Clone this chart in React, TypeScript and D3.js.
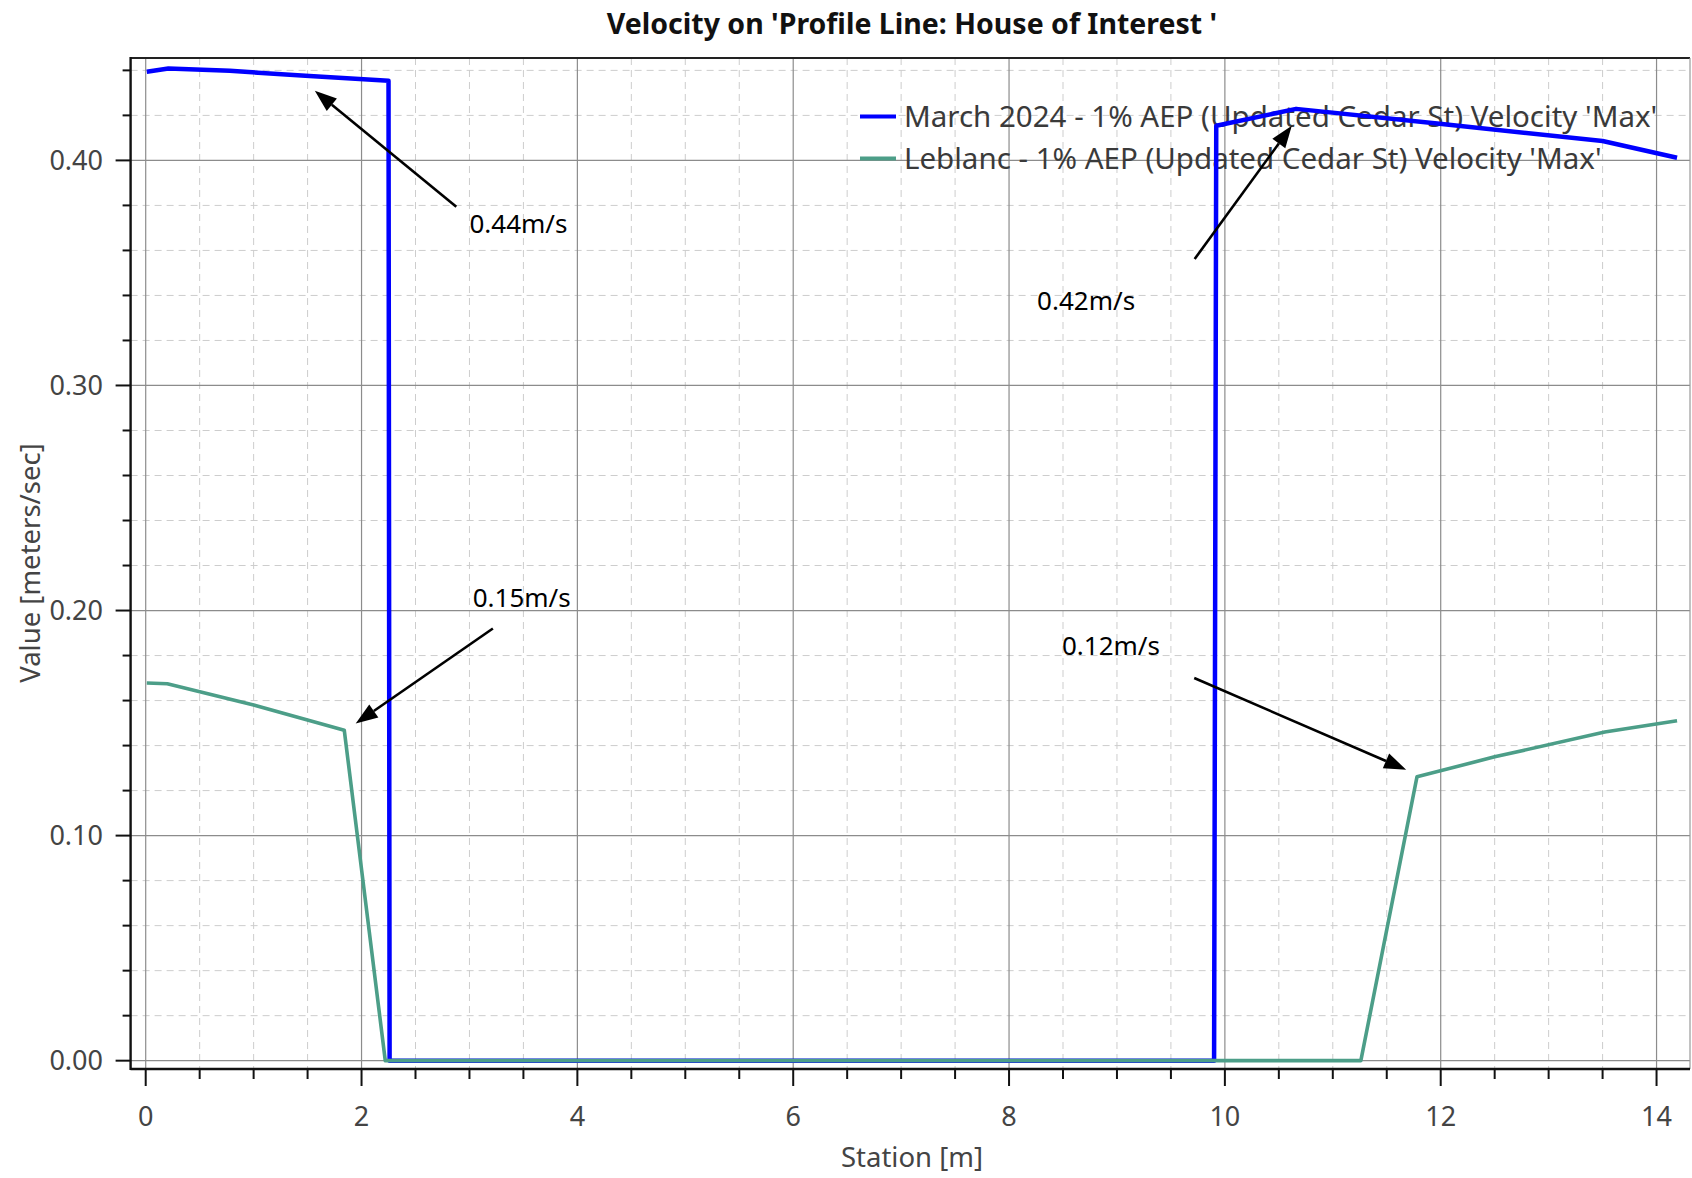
import React from "react";
import * as d3 from "d3";

// ---- Data ----
const stationMarch = [0.01, 0.21, 0.78, 1.48, 2.25, 2.26, 9.9, 9.92, 10.66, 11.99, 13.5, 14.19];
const velocityMarch = [0.4394, 0.4408, 0.4398, 0.4376, 0.4354, 0, 0, 0.4154, 0.4229, 0.4163, 0.4086, 0.4012];

const stationLeblanc = [0.01, 0.2, 1.0, 1.84, 2.22, 11.26, 11.78, 12.5, 13.52, 14.19];
const velocityLeblanc = [0.1678, 0.1675, 0.158, 0.1468, 0, 0, 0.1261, 0.135, 0.146, 0.151];

const seriesNames = [
  "March 2024 - 1% AEP (Updated Cedar St) Velocity 'Max'",
  "Leblanc - 1% AEP (Updated Cedar St) Velocity 'Max'",
];
const seriesColors = ["#0000ff", "#4c9e88"];

const xMajorTicks = [0, 2, 4, 6, 8, 10, 12, 14];
const yMajorTicks = [0, 0.1, 0.2, 0.3, 0.4];

// annotations: label, text anchor (data), arrow tail (data), arrow head (data)
const annLabels = ["0.44m/s", "0.42m/s", "0.15m/s", "0.12m/s"];
const annTextX = [3.0, 8.26, 3.03, 8.49];
const annTextY = [0.3676, 0.3336, 0.2016, 0.1801];
const annTailX = [2.878, 9.72, 3.217, 9.716];
const annTailY = [0.3794, 0.3562, 0.192, 0.17];
const annHeadX = [1.567, 10.62, 1.946, 11.68];
const annHeadY = [0.4309, 0.4154, 0.1498, 0.1293];

const W = 1692;
const H = 1178;

export default function App() {
  const x = d3.scaleLinear().domain([-0.14, 14.31]).range([130.6, 1690]);
  const y = d3.scaleLinear().domain([-0.0037, 0.4455]).range([1069, 58]);

  const xMinor = d3.range(0, 14.31, 0.5).filter((v) => Math.abs(v % 2) > 1e-6);
  const yMinor = d3
    .range(0, 0.445, 0.02)
    .filter((v) => Math.abs(Math.round(v * 10) - v * 10) > 1e-6);

  const line = d3
    .line<[number, number]>()
    .x((d) => x(d[0]))
    .y((d) => y(d[1]));

  const marchPts = stationMarch.map((s, i) => [s, velocityMarch[i]] as [number, number]);
  const leblancPts = stationLeblanc.map((s, i) => [s, velocityLeblanc[i]] as [number, number]);

  const font = "'Noto Sans', 'Open Sans', sans-serif";
  const [x0, x1] = x.range();
  const [yb, yt] = y.range();

  const arrow = (i: number) => {
    const tx = x(annTailX[i]);
    const ty = y(annTailY[i]);
    const hx = x(annHeadX[i]);
    const hy = y(annHeadY[i]);
    const ang = Math.atan2(hy - ty, hx - tx);
    const L = 22;
    const w = 8;
    const bx = hx - L * Math.cos(ang);
    const by = hy - L * Math.sin(ang);
    const px = -Math.sin(ang) * w;
    const py = Math.cos(ang) * w;
    return (
      <g key={"a" + i}>
        <line x1={tx} y1={ty} x2={bx} y2={by} stroke="#000" strokeWidth={2.6} />
        <path d={`M${hx},${hy}L${bx + px},${by + py}L${bx - px},${by - py}Z`} fill="#000" />
        <text x={x(annTextX[i])} y={y(annTextY[i])} fontSize={26} fontFamily={font} fill="#000">
          {annLabels[i]}
        </text>
      </g>
    );
  };

  return (
    <svg
      width={W}
      height={H}
      style={{ position: "absolute", left: 0, top: 0, background: "#fff" }}
    >
      <rect x={0} y={0} width={W} height={H} fill="#fff" />
      {/* Title */}
      <text x={912} y={34} textAnchor="middle" fontSize={28.5} fontWeight="bold" fontFamily={font} fill="#111">
        Velocity on 'Profile Line: House of Interest '
      </text>

      {/* minor grid */}
      {xMinor.map((v) => (
        <line key={"xm" + v} x1={x(v)} x2={x(v)} y1={yt} y2={yb} stroke="#cdcdcd" strokeWidth={1} strokeDasharray="7,5" />
      ))}
      {yMinor.map((v) => (
        <line key={"ym" + v} x1={x0} x2={x1} y1={y(v)} y2={y(v)} stroke="#cdcdcd" strokeWidth={1} strokeDasharray="7,5" />
      ))}
      {/* major grid */}
      {xMajorTicks.map((v) => (
        <line key={"xg" + v} x1={x(v)} x2={x(v)} y1={yt} y2={yb} stroke="#8c8c8c" strokeWidth={1.2} />
      ))}
      {yMajorTicks.map((v) => (
        <line key={"yg" + v} x1={x0} x2={x1} y1={y(v)} y2={y(v)} stroke="#8c8c8c" strokeWidth={1.2} />
      ))}

      {/* frame */}
      <line x1={x0} x2={x1} y1={yt} y2={yt} stroke="#222" strokeWidth={2} />
      <line x1={x1} x2={x1} y1={yt} y2={yb} stroke="#999" strokeWidth={1.2} />
      <line x1={x0} x2={x0} y1={yt - 1} y2={yb + 1} stroke="#111" strokeWidth={2.4} />
      <line x1={x0} x2={x1} y1={yb} y2={yb} stroke="#111" strokeWidth={2.4} />

      {/* y ticks */}
      {yMajorTicks.map((v) => (
        <g key={"yt" + v}>
          <line x1={x0 - 15} x2={x0} y1={y(v)} y2={y(v)} stroke="#111" strokeWidth={2} />
          <text x={103} y={y(v) + 9.5} textAnchor="end" fontSize={27} fontFamily={font} fill="#444">
            {d3.format(".2f")(v)}
          </text>
        </g>
      ))}
      {yMinor.map((v) => (
        <line key={"ytm" + v} x1={x0 - 8} x2={x0} y1={y(v)} y2={y(v)} stroke="#111" strokeWidth={2} />
      ))}
      {/* x ticks */}
      {xMajorTicks.map((v) => (
        <g key={"xt" + v}>
          <line x1={x(v)} x2={x(v)} y1={yb} y2={yb + 17} stroke="#111" strokeWidth={2} />
          <text x={x(v)} y={1126} textAnchor="middle" fontSize={27} fontFamily={font} fill="#444">
            {v}
          </text>
        </g>
      ))}
      {xMinor.map((v) => (
        <line key={"xtm" + v} x1={x(v)} x2={x(v)} y1={yb} y2={yb + 10} stroke="#111" strokeWidth={2} />
      ))}

      {/* axis titles */}
      <text x={912} y={1167} textAnchor="middle" fontSize={27.5} fontFamily={font} fill="#444">
        Station [m]
      </text>
      <text
        transform={`translate(40,563) rotate(-90)`}
        textAnchor="middle"
        fontSize={27.5}
        fontFamily={font}
        fill="#444"
      >
        Value [meters/sec]
      </text>

      {/* legend */}
      {seriesNames.map((n, i) => (
        <g key={"lg" + i}>
          <line x1={860} x2={896} y1={116.5 + i * 42} y2={116.5 + i * 42} stroke={seriesColors[i]} strokeWidth={4} />
          <text x={904} y={127} fontSize={29.5} dy={i * 42} fontFamily={font} fill="#3a3a3a">
            {n}
          </text>
        </g>
      ))}

      {/* series */}
      <path d={line(marchPts) || ""} fill="none" stroke={seriesColors[0]} strokeWidth={4.5} strokeLinejoin="round" />
      <path d={line(leblancPts) || ""} fill="none" stroke={seriesColors[1]} strokeWidth={3.6} strokeLinejoin="round" />

      {/* annotations */}
      {annLabels.map((_, i) => arrow(i))}
    </svg>
  );
}
